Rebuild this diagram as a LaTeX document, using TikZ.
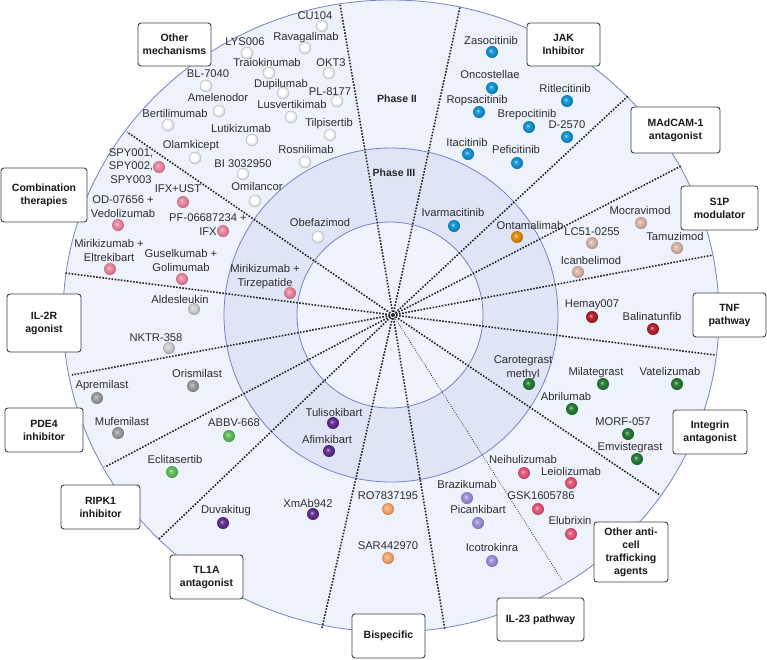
\documentclass[tikz,border=0pt]{standalone}
\usepackage{fontspec}
\setmainfont{Liberation Sans}
\definecolor{outerfill}{HTML}{EEF2FB}
\definecolor{phasefill}{HTML}{DFE5F7}
\definecolor{innerfill}{HTML}{EFF3FB}
\definecolor{ringc}{HTML}{7383C4}
\definecolor{cjak}{HTML}{1192D3}
\definecolor{conta}{HTML}{E08A0A}
\definecolor{cs1p}{HTML}{D8B4A6}
\definecolor{ctnf}{HTML}{B01E28}
\definecolor{cint}{HTML}{237A33}
\definecolor{canti}{HTML}{E2557A}
\definecolor{cil23}{HTML}{9C8ED6}
\definecolor{cbisp}{HTML}{F7A46A}
\definecolor{ctl1a}{HTML}{5E2C8C}
\definecolor{cripk}{HTML}{5DBB5A}
\definecolor{cpde}{HTML}{9A9A9A}
\definecolor{cil2}{HTML}{CDCDCD}
\definecolor{ccomb}{HTML}{EC859D}
\colorlet{ballc}{white}
\pgfdeclareradialshading[ballc]{myball}{\pgfpoint{-6bp}{6bp}}{color(0bp)=(ballc!25!white); color(6bp)=(ballc!85!white); color(14bp)=(ballc); color(22bp)=(ballc!88!black); color(25bp)=(ballc!78!black); color(50bp)=(ballc!78!black)}
\begin{document}
\begin{tikzpicture}[x=1pt,y=-1pt,
  ring/.style={draw=ringc, line width=0.8pt},
  dotline/.style={draw=black!85, line width=1.6pt, dash pattern=on 1.6pt off 1.5pt},
  thinline/.style={draw=black!80, line width=0.8pt, dash pattern=on 0.8pt off 1.5pt},
  ball/.style={circle, inner sep=0pt, minimum size=12pt, shade, shading=myball, /utils/exec={\colorlet{ballc}{#1}}},
  wball/.style={ball=white, draw=gray!55, line width=0.4pt},
  lbl/.style={font=\fontsize{11.2}{13.5}\selectfont, inner sep=0pt, anchor=base, yshift=-4pt, align=center, text=black!82},
  phase/.style={font=\bfseries\fontsize{10.5}{13}\selectfont, inner sep=0pt, text=black!85},
  catbox/.style={draw=black!75, line width=0.9pt, rounded corners=3pt, fill=white, font=\bfseries\fontsize{10.5}{13}\selectfont, align=center, inner sep=1pt, text=black!90}
]
\useasboundingbox (0,0) rectangle (767,659);
\fill[white] (0,0) rectangle (767,659);
% rings
\draw[ring, fill=outerfill] (391,316) ellipse [x radius=328pt, y radius=316pt];
\draw[ring, fill=phasefill] (391,315) circle [radius=167pt];
\draw[ring, fill=innerfill] (390,315) circle [radius=93pt];
% sector lines
\coordinate (c) at (393,315);
\coordinate (e1) at (340,4);
\coordinate (e2) at (460,7);
\coordinate (e3) at (628,96);
\coordinate (e4) at (681,166);
\coordinate (e5) at (713,255);
\coordinate (e6) at (715,355);
\coordinate (e7) at (660,495);
\coordinate (e8) at (562,580);
\coordinate (e9) at (445,630);
\coordinate (e10) at (322,628);
\coordinate (e11) at (158,540);
\coordinate (e12) at (105,467);
\coordinate (e13) at (72,375);
\coordinate (e14) at (65,273);
\coordinate (e15) at (127,132);
\foreach \e in {e1,e2,e3,e4,e5,e6,e7,e9,e10,e11,e12,e13,e14,e15} \draw[dotline] (c) -- (\e);
\draw[thinline] (c) -- (e8);
% phase labels
\node[phase] (ph2) at (397,99) {Phase II};
\node[phase] (ph3) at (394,173) {Phase III};
% Other mechanisms
\node[lbl] (lcu) at (315,15) {CU104};            \node[wball] (dcu) at (322,26) {};
\node[lbl] (lrav) at (306,36) {Ravagalimab};     \node[wball] (drav) at (305,48) {};
\node[lbl] (llys) at (245,41) {LYS006};          \node[wball] (dlys) at (247,53) {};
\node[lbl] (ltra) at (267,62) {Traiokinumab};    \node[wball] (dtra) at (269,73) {};
\node[lbl] (lokt) at (331,62) {OKT3};            \node[wball] (dokt) at (329,73) {};
\node[lbl] (ldup) at (281,83) {Dupilumab};       \node[wball] (ddup) at (283,93) {};
\node[lbl] (lpl) at (330,91) {PL-8177};          \node[wball] (dpl) at (337,101) {};
\node[lbl] (llus) at (292,104) {Lusvertikimab};  \node[wball] (dlus) at (291,117) {};
\node[lbl] (ltil) at (329,122) {Tilpisertib};    \node[wball] (dtil) at (330,135) {};
\node[lbl] (lros) at (306,149) {Rosnilimab};     \node[wball] (dros) at (305,162) {};
\node[lbl] (lbl7) at (208,73) {BL-7040};         \node[wball] (dbl7) at (206,86) {};
\node[lbl] (lame) at (218,97) {Amelenodor};      \node[wball] (dame) at (219,111) {};
\node[lbl] (lber) at (175,113) {Bertilimumab};   \node[wball] (dber) at (168,125) {};
\node[lbl] (llut) at (241,128) {Lutikizumab};    \node[wball] (dlut) at (252,140) {};
\node[lbl] (lola) at (191,144) {Olamkicept};     \node[wball] (dola) at (195,158) {};
\node[lbl] (lbi) at (243,163) {BI 3032950};      \node[wball] (dbi) at (243,174) {};
\node[lbl] (lomi) at (257,186) {Omilancor};      \node[wball] (domi) at (255,201) {};
\node[lbl] (lobe) at (320,222) {Obefazimod};     \node[wball] (dobe) at (318,237) {};
% Combination therapies (multi-line labels placed by their last line)
\node[lbl] (lspy) at (131,179) {SPY001,\\SPY002,\\SPY003}; \node[ball=ccomb] (dspy) at (159,167) {};
\node[lbl] (lifu) at (178,188) {IFX+UST};        \node[ball=ccomb] (difu) at (183,202) {};
\node[lbl] (lod) at (123,213) {OD-07656 +\\Vedolizumab}; \node[ball=ccomb] (dod) at (118,225) {};
\node[lbl] (lpf) at (208,231) {PF-06687234 +\\IFX}; \node[ball=ccomb] (dpf) at (223,231) {};
\node[lbl] (lme) at (109,257) {Mirikizumab +\\Eltrekibart}; \node[ball=ccomb] (dme) at (110,269) {};
\node[lbl] (lgg) at (181,267) {Guselkumab +\\Golimumab}; \node[ball=ccomb] (dgg) at (182,279) {};
\node[lbl] (lmt) at (265,282) {Mirikizumab +\\Tirzepatide}; \node[ball=ccomb] (dmt) at (290,293) {};
% IL-2R
\node[lbl] (lald) at (180,299) {Aldesleukin};    \node[ball=cil2] (dald) at (194,309) {};
\node[lbl] (lnk) at (156,337) {NKTR-358};        \node[ball=cil2] (dnk) at (169,348) {};
% PDE4
\node[lbl] (lori) at (197,373) {Orismilast};     \node[ball=cpde] (dori) at (193,386) {};
\node[lbl] (lapr) at (102,384) {Apremilast};     \node[ball=cpde] (dapr) at (97,398) {};
\node[lbl] (lmuf) at (122,421) {Mufemilast};     \node[ball=cpde] (dmuf) at (118,433) {};
% RIPK1
\node[lbl] (labb) at (234,422) {ABBV-668};       \node[ball=cripk] (dabb) at (229,436) {};
\node[lbl] (lecl) at (175,459) {Eclitasertib};   \node[ball=cripk] (decl) at (172,472) {};
% TL1A
\node[lbl] (lduv) at (226,509) {Duvakitug};      \node[ball=ctl1a] (dduv) at (223,523) {};
\node[lbl] (lxm) at (308,503) {XmAb942};         \node[ball=ctl1a] (dxm) at (313,514) {};
\node[lbl] (ltul) at (334,412) {Tulisokibart};   \node[ball=ctl1a] (dtul) at (333,423) {};
\node[lbl] (lafi) at (327,439) {Afimkibart};     \node[ball=ctl1a] (dafi) at (329,451) {};
% Bispecific
\node[lbl] (lro) at (388,495) {RO7837195};       \node[ball=cbisp] (dro) at (388,509) {};
\node[lbl] (lsar) at (388,545) {SAR442970};      \node[ball=cbisp] (dsar) at (388,558) {};
% IL-23
\node[lbl] (lbra) at (467,484) {Brazikumab};     \node[ball=cil23] (dbra) at (467,498) {};
\node[lbl] (lpic) at (478,509) {Picankibart};    \node[ball=cil23] (dpic) at (478,523) {};
\node[lbl] (lico) at (492,547) {Icotrokinra};    \node[ball=cil23] (dico) at (492,561) {};
% Other anti-cell trafficking
\node[lbl] (lnei) at (523,459) {Neihulizumab};   \node[ball=canti] (dnei) at (524,473) {};
\node[lbl] (llei) at (571,471) {Leiolizumab};    \node[ball=canti] (dlei) at (571,483) {};
\node[lbl] (lgsk) at (541,495) {GSK1605786};     \node[ball=canti] (dgsk) at (538,509) {};
\node[lbl] (lelu) at (570,520) {Elubrixin};      \node[ball=canti] (delu) at (571,534) {};
% Integrin
\node[lbl] (lcar) at (523,373) {Carotegrast\\methyl}; \node[ball=cint] (dcar) at (529,384) {};
\node[lbl] (lmil) at (596,371) {Milategrast};    \node[ball=cint] (dmil) at (603,384) {};
\node[lbl] (lvat) at (670,371) {Vatelizumab};    \node[ball=cint] (dvat) at (677,384) {};
\node[lbl] (labr) at (566,396) {Abrilumab};      \node[ball=cint] (dabr) at (572,409) {};
\node[lbl] (lmor) at (623,421) {MORF-057};       \node[ball=cint] (dmor) at (628,434) {};
\node[lbl] (lemv) at (630,446) {Emvistegrast};   \node[ball=cint] (demv) at (637,459) {};
% TNF
\node[lbl] (lhem) at (592,303) {Hemay007};       \node[ball=ctnf] (dhem) at (592,317) {};
\node[lbl] (lbal) at (652,316) {Balinatunfib};   \node[ball=ctnf] (dbal) at (653,329) {};
% S1P
\node[lbl] (lmoc) at (640,210) {Mocravimod};     \node[ball=cs1p] (dmoc) at (641,223) {};
\node[lbl] (llc) at (592,231) {LC51-0255};       \node[ball=cs1p] (dlc) at (592,243) {};
\node[lbl] (ltam) at (675,236) {Tamuzimod};      \node[ball=cs1p] (dtam) at (677,248) {};
\node[lbl] (lica) at (591,260) {Icanbelimod};    \node[ball=cs1p] (dica) at (578,272) {};
% MAdCAM-1
\node[lbl] (lont) at (530,225) {Ontamalimab};    \node[ball=conta] (dont) at (517,237) {};
% JAK
\node[lbl] (lzas) at (491,40) {Zasocitinib};     \node[ball=cjak] (dzas) at (492,52) {};
\node[lbl] (lonc) at (490,74) {Oncostellae};     \node[ball=cjak] (donc) at (492,88) {};
\node[lbl] (lrop) at (477,99) {Ropsacitinib};    \node[ball=cjak] (drop) at (479,112) {};
\node[lbl] (lrit) at (565,88) {Ritlecitinib};    \node[ball=cjak] (drit) at (567,101) {};
\node[lbl] (lbre) at (527,113) {Brepocitinib};   \node[ball=cjak] (dbre) at (529,127) {};
\node[lbl] (ld25) at (567,124) {D-2570};         \node[ball=cjak] (dd25) at (567,137) {};
\node[lbl] (lita) at (467,142) {Itacitinib};     \node[ball=cjak] (dita) at (468,154) {};
\node[lbl] (lpef) at (516,149) {Peficitinib};    \node[ball=cjak] (dpef) at (517,163) {};
\node[lbl] (liva) at (453,212) {Ivarmacitinib};  \node[ball=cjak] (diva) at (454,226) {};
% category boxes
\node[catbox, minimum width=73pt, minimum height=43pt] (bom) at (174.5,44.5) {Other\\mechanisms};
\node[catbox, minimum width=86pt, minimum height=54pt] (bcomb) at (44,195) {Combination\\therapies};
\node[catbox, minimum width=73pt, minimum height=43pt] (bjak) at (563.5,44.5) {JAK\\Inhibitor};
\node[catbox, minimum width=89pt, minimum height=46pt] (bmad) at (675.5,130) {MAdCAM-1\\antagonist};
\node[catbox, minimum width=77pt, minimum height=44pt] (bs1p) at (719.5,208) {S1P\\modulator};
\node[catbox, minimum width=73pt, minimum height=44pt] (btnf) at (729.5,315) {TNF\\pathway};
\node[catbox, minimum width=74pt, minimum height=44pt] (bint) at (710,432) {Integrin\\antagonist};
\node[catbox, minimum width=74pt, minimum height=60pt] (banti) at (631,552) {Other anti-\\cell\\trafficking\\agents};
\node[catbox, minimum width=87pt, minimum height=43pt] (bil23) at (540.5,619.5) {IL-23 pathway};
\node[catbox, minimum width=73pt, minimum height=44pt] (bbis) at (388.5,636) {Bispecific};
\node[catbox, minimum width=73pt, minimum height=44pt] (btl1a) at (206.5,577) {TL1A\\antagonist};
\node[catbox, minimum width=79pt, minimum height=44pt] (bripk) at (100.5,507) {RIPK1\\inhibitor};
\node[catbox, minimum width=78pt, minimum height=44pt] (bpde) at (44,430) {PDE4\\inhibitor};
\node[catbox, minimum width=74pt, minimum height=58pt] (bil2) at (44,323) {IL-2R\\agonist};
\end{tikzpicture}
\end{document}
